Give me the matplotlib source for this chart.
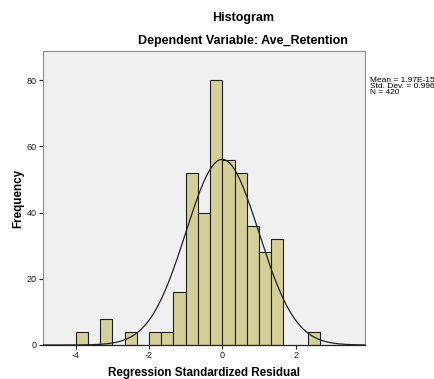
import numpy as np
import matplotlib
matplotlib.use("Agg")
import matplotlib.pyplot as plt

plt.rcParams['font.family'] = ['Liberation Sans', 'DejaVu Sans']

bin_left = [-4, -11/3, -10/3, -3, -8/3, -7/3, -2, -5/3, -4/3, -1, -2/3, -1/3,
            0, 1/3, 2/3, 1, 4/3, 5/3, 2, 7/3]
counts = [4, 0, 8, 0, 4, 0, 4, 4, 16, 52, 40, 80,
          56, 52, 36, 28, 32, 0, 0, 4]
bin_width = 1 / 3

mean = 1.97e-15
std = 0.996
n = 420

fig = plt.figure(figsize=(4.34, 3.79), dpi=100)
ax = fig.add_axes([43/434, 34/379, 322/434, 294/379])
ax.set_facecolor('#f0f0f0')

for x0, c in zip(bin_left, counts):
    if c > 0:
        ax.bar(x0, c, width=bin_width, align='edge', color='#d4cf99',
               edgecolor='#1e1e1e', linewidth=0.8, zorder=2)

# normal curve scaled to counts
xs = np.linspace(-4.9, 3.9, 400)
ys = n * bin_width / (std * np.sqrt(2 * np.pi)) * np.exp(-0.5 * ((xs - mean) / std) ** 2)
ax.plot(xs, ys, color='#222222', lw=0.9, zorder=3)

ax.set_xlim(-4.89, 3.89)
ax.set_ylim(0, 88.8)
ax.set_xticks([-4, -2, 0, 2])
ax.set_xticklabels(['-4', '-2', '0', '2'])
ax.set_yticks([0, 20, 40, 60, 80])
ax.tick_params(labelsize=6.5, length=3, width=0.8, pad=1.5, colors='#222222')

for s in ['top', 'right', 'left']:
    ax.spines[s].set_color('#8c8c8c')
    ax.spines[s].set_linewidth(0.8)
ax.spines['bottom'].set_color('#222222')
ax.spines['bottom'].set_linewidth(0.9)

ax.set_xlabel('Regression Standardized Residual', fontsize=8.4, fontweight='bold', labelpad=5)
ax.set_ylabel('Frequency', fontsize=8.4, fontweight='bold', labelpad=2)

fig.text(243/434, 1 - 18/379, 'Histogram', ha='center', va='center',
         fontsize=9, fontweight='bold')
fig.text(243/434, 1 - 41/379, 'Dependent Variable: Ave_Retention', ha='center',
         va='center', fontsize=9, fontweight='bold')

fig.text(370/434, 1 - 77/379, 'Mean = 1.97E-15\nStd. Dev. = 0.996\nN = 420',
         ha='left', va='top', fontsize=6, linespacing=0.85)

fig.savefig('out.png', dpi=100)
